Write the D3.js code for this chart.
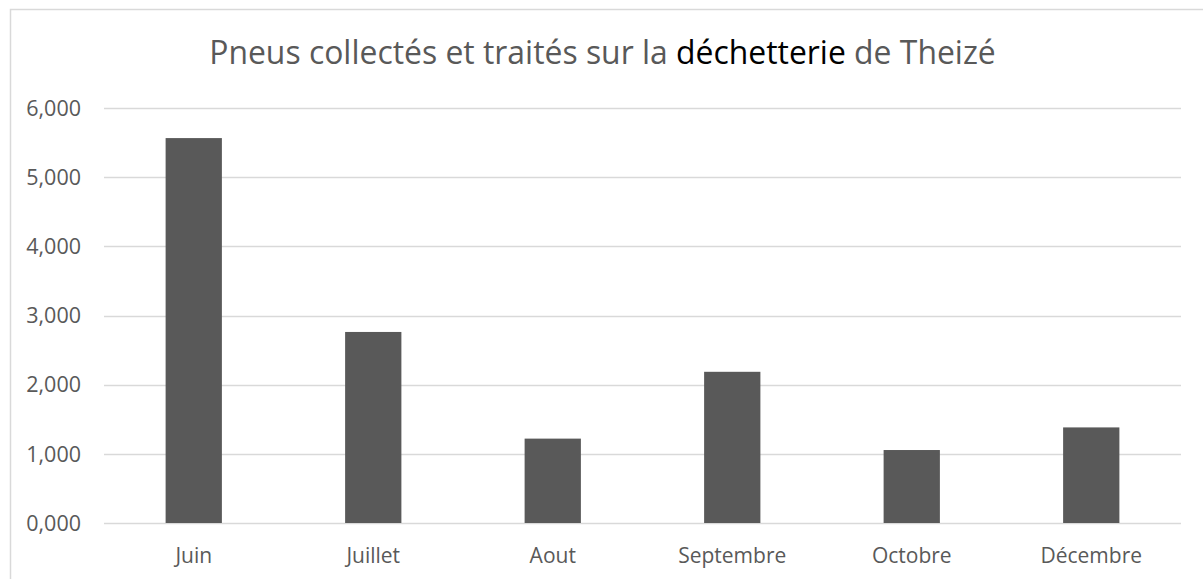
<!DOCTYPE html>
<html>
<head>
<meta charset="utf-8">
<script src="https://cdn.jsdelivr.net/npm/d3@7"></script>
<style>
  body { margin: 0; background: #fff; }
  text { font-family: "Open Sans", sans-serif; fill: #595959; }
</style>
</head>
<body>
<div id="chart"></div>
<script>
// data
const months = ["Juin", "Juillet", "Aout", "Septembre", "Octobre", "Décembre"];
const tonnes = [5.565, 2.762, 1.220, 2.186, 1.055, 1.382];
const yTicks = [0, 1, 2, 3, 4, 5, 6];

const width = 1203, height = 579;
const margin = {top: 108, right: 22, bottom: 56, left: 104};

let svg = d3.select("#chart").append("svg")
    .attr("width", width)
    .attr("height", height);

// chart frame (only left/top are visible in the picture)
svg.append("rect")
    .attr("x", 10.5).attr("y", 9.5)
    .attr("width", 1400).attr("height", 800)
    .attr("fill", "none")
    .attr("stroke", "#d9d9d9")
    .attr("stroke-width", 1.5);

let x = d3.scaleBand()
    .domain(months)
    .range([margin.left, width - margin.right])
    .paddingInner(2.19 / 3.19)
    .paddingOuter(2.19 / 3.19 / 2);

let y = d3.scaleLinear()
    .domain([0, 6])
    .range([height - margin.bottom, margin.top]);

// gridlines
svg.append("g")
    .selectAll("line")
    .data(yTicks)
    .enter().append("line")
    .attr("x1", margin.left)
    .attr("x2", width - margin.right)
    .attr("y1", d => Math.round(y(d)) + 0.5)
    .attr("y2", d => Math.round(y(d)) + 0.5)
    .attr("stroke", "#d9d9d9")
    .attr("stroke-width", 1.5);

// y labels
let fmt = d => d3.format(".3f")(d).replace(".", ",");
svg.append("g")
    .selectAll("text")
    .data(yTicks)
    .enter().append("text")
    .attr("x", 81)
    .attr("y", d => y(d))
    .attr("dy", "0.36em")
    .attr("text-anchor", "end")
    .style("font-size", "21.5px")
    .text(d => fmt(d));

// bars
svg.append("g")
    .selectAll("rect")
    .data(tonnes)
    .enter().append("rect")
    .attr("x", (d, i) => x(months[i]))
    .attr("width", x.bandwidth())
    .attr("y", d => y(d))
    .attr("height", d => y(0) - y(d))
    .attr("fill", "#595959");

// x labels
svg.append("g")
    .selectAll("text")
    .data(months)
    .enter().append("text")
    .attr("x", d => x(d) + x.bandwidth() / 2)
    .attr("y", 563)
    .attr("text-anchor", "middle")
    .style("font-size", "21px")
    .text(d => d);

// title
let title = svg.append("text")
    .attr("x", width / 2 + 1)
    .attr("y", 64)
    .attr("text-anchor", "middle")
    .style("font-size", "27px");
title.append("tspan").text("Pneus collectés et traités sur la ");
title.append("tspan").style("fill", "#000").text("déchetterie");
title.append("tspan").text(" de Theizé");

// fit title width to the picture (~787px)
let tw = title.node().getComputedTextLength();
title.style("font-size", (27 * 787 / tw) + "px");
</script>
</body>
</html>
